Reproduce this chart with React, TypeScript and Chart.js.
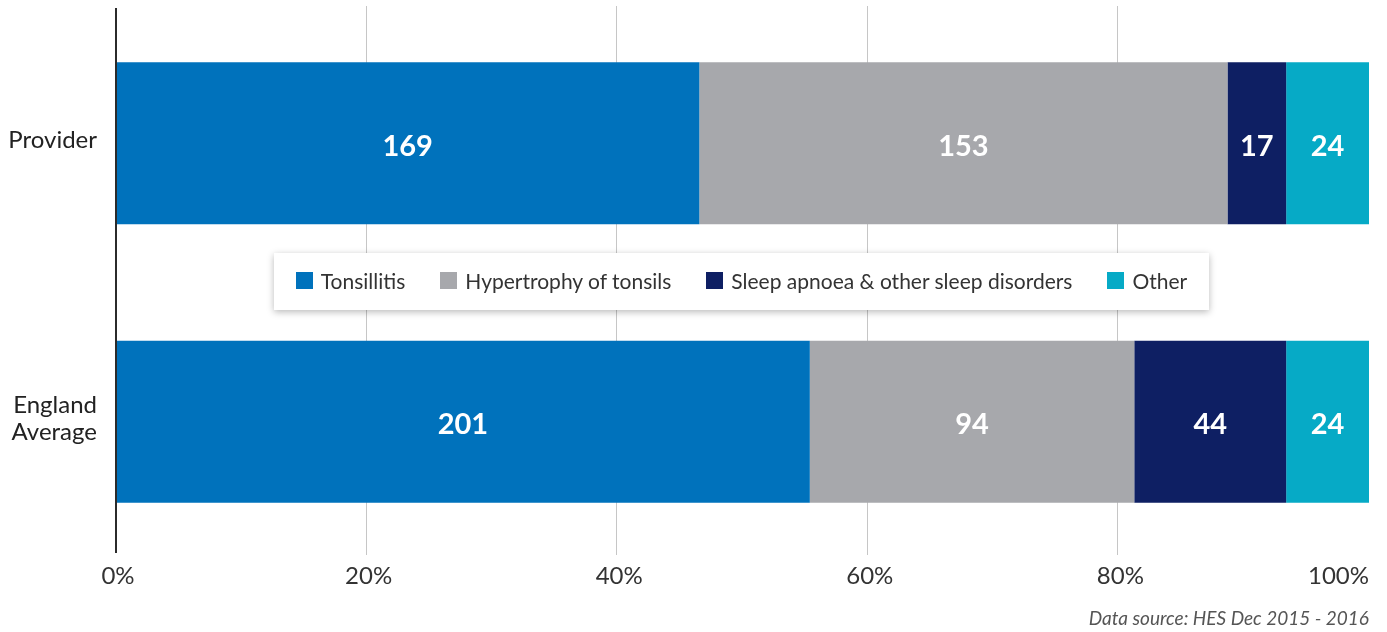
import React, { useEffect, useRef } from 'react';
import { Chart, registerables } from 'chart.js';

Chart.register(...registerables);

const categories: string[][] = [['Provider'], ['England', 'Average']];
const seriesNames = ['Tonsillitis', 'Hypertrophy of tonsils', 'Sleep apnoea & other sleep disorders', 'Other'];
const tonsillitis = [169, 201];
const hypertrophy = [153, 94];
const sleepApnoea = [17, 44];
const other = [24, 24];
const xTickValues = [0, 20, 40, 60, 80, 100];
const gridValues = [20, 40, 60, 80];
const seriesColors = ['#0072BC', '#A7A8AC', '#0E1F63', '#06AAC6'];
const sourceText = 'Data source: HES Dec 2015 - 2016';

const seriesValues = [tonsillitis, hypertrophy, sleepApnoea, other];
const totals = categories.map((_, i) => seriesValues.reduce((s, arr) => s + arr[i], 0));

const FONT = 'Lato, "Noto Sans", sans-serif';

const customPlugin = {
  id: 'customDraw',
  beforeDatasetsDraw(chart: any) {
    const { ctx, chartArea, scales } = chart;
    ctx.save();
    ctx.strokeStyle = '#C6C6C6';
    ctx.lineWidth = 1;
    gridValues.forEach((v) => {
      const px = Math.round(scales.x.getPixelForValue(v)) - 0.5;
      ctx.beginPath();
      ctx.moveTo(px, chartArea.top + 2);
      ctx.lineTo(px, chartArea.bottom - 6);
      ctx.stroke();
    });
    ctx.restore();
  },
  afterDatasetsDraw(chart: any) {
    const { ctx, chartArea, scales } = chart;
    ctx.save();
    // data labels
    ctx.fillStyle = '#FFFFFF';
    ctx.font = `bold 29px ${FONT}`;
    ctx.textAlign = 'center';
    ctx.textBaseline = 'middle';
    chart.data.datasets.forEach((ds: any, di: number) => {
      const meta = chart.getDatasetMeta(di);
      meta.data.forEach((el: any, i: number) => {
        const p = el.getProps(['x', 'base', 'y'], true);
        ctx.fillText(String(ds.raw[i]), (p.x + p.base) / 2, p.y + 3);
      });
    });
    // y axis line
    ctx.strokeStyle = '#2B2B2B';
    ctx.lineWidth = 2;
    ctx.beginPath();
    ctx.moveTo(chartArea.left - 0, chartArea.top + 4);
    ctx.lineTo(chartArea.left - 0, chartArea.bottom - 8);
    ctx.stroke();
    // x tick labels
    ctx.fillStyle = '#333333';
    ctx.font = `24px ${FONT}`;
    ctx.textBaseline = 'alphabetic';
    xTickValues.forEach((v, i) => {
      const px = scales.x.getPixelForValue(v);
      if (i === xTickValues.length - 1) {
        ctx.textAlign = 'right';
        ctx.fillText(`${v}%`, px, chartArea.bottom + 23);
      } else {
        ctx.textAlign = 'center';
        ctx.fillText(`${v}%`, px + 2, chartArea.bottom + 23);
      }
    });
    ctx.restore();
  },
};

export default function App() {
  const canvasRef = useRef<HTMLCanvasElement | null>(null);

  useEffect(() => {
    let chart: Chart | null = null;
    let cancelled = false;
    const make = () => {
      if (cancelled || !canvasRef.current) return;
      chart = new Chart(canvasRef.current, {
        type: 'bar',
        data: {
          labels: categories as any,
          datasets: seriesNames.map((name, si) => ({
            label: name,
            data: seriesValues[si].map((v, i) => (v / totals[i]) * 100),
            raw: seriesValues[si],
            backgroundColor: seriesColors[si],
            borderWidth: 0,
            categoryPercentage: 1,
            barPercentage: 0.582,
          })) as any,
        },
        options: {
          indexAxis: 'y',
          animation: false,
          responsive: true,
          maintainAspectRatio: false,
          layout: { padding: { top: 4, bottom: 71, right: 18, left: 0 } },
          plugins: {
            legend: { display: false },
            tooltip: { enabled: false },
          },
          scales: {
            x: {
              stacked: true,
              min: 0,
              max: 100,
              ticks: { display: false, stepSize: 20 },
              grid: { display: false, drawTicks: false },
              border: { display: false },
              afterFit(scale: any) {
                scale.height = 0;
                scale.paddingLeft = 0;
                scale.paddingRight = 0;
              },
            },
            y: {
              stacked: true,
              grid: { display: false, drawTicks: true, tickLength: 19 },
              border: { display: false },
              ticks: {
                color: '#222222',
                padding: 0,
                labelOffset: -3,
                font: { family: FONT, size: 24, lineHeight: 1.13 },
              },
              afterFit(scale: any) {
                scale.width = 116;
                scale.paddingTop = 0;
                scale.paddingBottom = 0;
              },
            },
          },
        },
        plugins: [customPlugin],
      });
    };
    const fontsReady = (document as any).fonts
      ? Promise.all([
          (document as any).fonts.load(`24px Lato`),
          (document as any).fonts.load(`bold 29px Lato`),
          (document as any).fonts.load(`italic 19px Lato`),
        ]).catch(() => null)
      : Promise.resolve(null);
    fontsReady.then(make);
    return () => {
      cancelled = true;
      if (chart) chart.destroy();
    };
  }, []);

  return (
    <div style={{ position: 'fixed', left: 0, top: 0, width: 1387, height: 632, background: '#fff', fontFamily: FONT }}>
      <canvas ref={canvasRef} style={{ position: 'absolute', left: 0, top: 0, width: 1387, height: 632 }} />
      <div
        style={{
          position: 'absolute',
          left: 274,
          top: 253,
          width: 935,
          height: 57,
          background: '#fff',
          boxShadow: '0 2px 7px rgba(0,0,0,0.28)',
          display: 'flex',
          alignItems: 'center',
          justifyContent: 'center',
          gap: 35,
          boxSizing: 'border-box',
          paddingBottom: 3,
        }}
      >
        {seriesNames.map((name, i) => (
          <div key={name} style={{ display: 'flex', alignItems: 'center', gap: 8 }}>
            <span style={{ width: 17, height: 17, background: seriesColors[i], display: 'inline-block' }} />
            <span style={{ fontSize: 21, color: '#333', whiteSpace: 'nowrap' }}>{name}</span>
          </div>
        ))}
      </div>
      <div
        style={{
          position: 'absolute',
          right: 18,
          top: 606,
          fontSize: 19,
          fontStyle: 'italic',
          color: '#555',
          whiteSpace: 'nowrap',
        }}
      >
        {sourceText}
      </div>
    </div>
  );
}
